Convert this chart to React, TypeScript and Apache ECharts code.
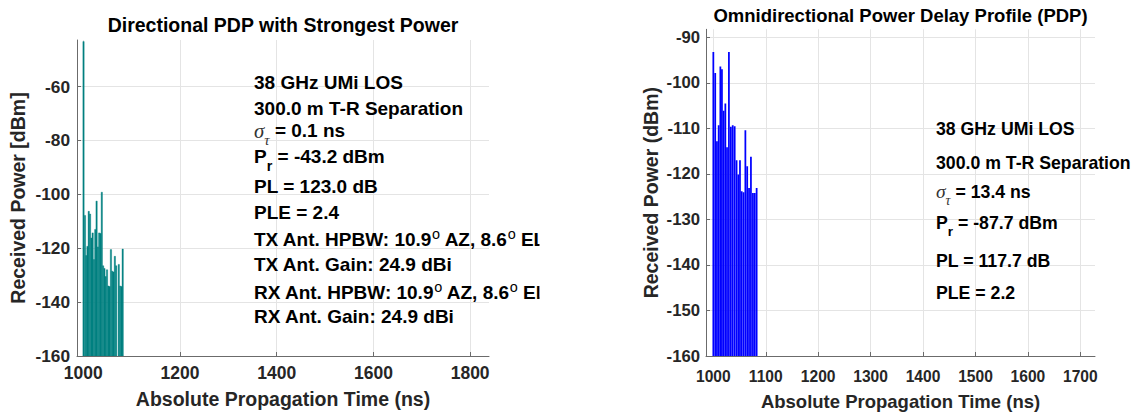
import React, { useEffect, useRef } from "react";
import * as echarts from "echarts";

// ---------- data ----------
const leftTimes = [1000.5, 1003.5, 1006, 1008.6, 1011.3, 1014, 1016.7, 1019.4, 1022.1, 1024.8, 1027.5, 1030.2, 1032.9, 1035.6, 1038.3, 1041, 1043.7, 1046.4, 1049.1, 1051.8, 1054.5, 1057.2, 1059.9, 1062.6, 1065.3, 1068, 1073.4, 1076.1, 1078.8, 1081.5];
const leftPower = [-43.3, -107.8, -122.7, -119.3, -106.3, -107.3, -116.2, -114.3, -124.2, -113, -102.5, -119.5, -114.3, -114.5, -99.2, -126.5, -127.5, -130.5, -128, -134, -134.2, -120.5, -128.5, -128.8, -123, -126.5, -126, -134, -134.2, -120.3];

const rightTimes = [1000, 1003.6, 1006.9, 1010.2, 1013.4, 1016.4, 1019.6, 1022.9, 1026.1, 1029.7, 1033.4, 1037, 1040.7, 1044.3, 1047.6, 1050.8, 1054.1, 1057.6, 1061.1, 1064.6, 1068.1, 1071.7, 1075.5, 1079, 1082.6];
const rightPower = [-93.2, -97.8, -112.8, -109.3, -96.4, -97.0, -106.1, -104.5, -114.1, -93.2, -109.6, -109.3, -109.5, -117, -120.1, -117, -123.8, -124, -110.4, -118.3, -123.1, -116.2, -124.2, -124.2, -123.1];

const leftXTicks = [1000, 1200, 1400, 1600, 1800];
const leftYTicks = [-160, -140, -120, -100, -80, -60];
const rightXTicks = [1000, 1100, 1200, 1300, 1400, 1500, 1600, 1700];
const rightYTicks = [-160, -150, -140, -130, -120, -110, -100, -90];

const leftTitle = "Directional PDP with Strongest Power";
const rightTitle = "Omnidirectional Power Delay Profile (PDP)";
const xName = "Absolute Propagation Time (ns)";
const leftYName = "Received Power [dBm]";
const rightYName = "Received Power (dBm)";

// annotation lines as [kind, text] segments: m = main, g = greek, gs = greek subscript, s = subscript, u = superscript
type Seg = [string, string];
const leftNotes: Seg[][] = [
  [["m", "38 GHz UMi LOS"]],
  [["m", "300.0 m T-R Separation"]],
  [["g", "σ"], ["gs", "τ"], ["m", " = 0.1 ns"]],
  [["m", "P"], ["s", "r"], ["m", " = -43.2 dBm"]],
  [["m", "PL = 123.0 dB"]],
  [["m", "PLE = 2.4"]],
  [["m", "TX Ant. HPBW: 10.9"], ["u", "o"], ["m", " AZ, 8.6"], ["u", "o"], ["m", " EL"]],
  [["m", "TX Ant. Gain: 24.9 dBi"]],
  [["m", "RX Ant. HPBW: 10.9"], ["u", "o"], ["m", " AZ, 8.6"], ["u", "o"], ["m", " EL"]],
  [["m", "RX Ant. Gain: 24.9 dBi"]],
];
const rightNotes: Seg[][] = [
  [["m", "38 GHz UMi LOS"]],
  [["m", "300.0 m T-R Separation"]],
  [["g", "σ"], ["gs", "τ"], ["m", " = 13.4 ns"]],
  [["m", "P"], ["s", "r"], ["m", " = -87.7 dBm"]],
  [["m", "PL = 117.7 dB"]],
  [["m", "PLE = 2.2"]],
];

// ---------- layout / style ----------
const FONT = '"Liberation Sans", Arial, Helvetica, sans-serif';
const SERIF = '"Liberation Serif", "DejaVu Serif", serif';
const LABEL = "#262626";
const AXIS = "#6b6b6b";
const GRID = "#e4e4e4";
const leftNoteY = [82.7, 108.3, 130.7, 156.7, 186.7, 212.7, 239.5, 264, 292.5, 316];
const rightNoteY = [129.3, 163.3, 191.7, 223.3, 261, 293.3];

function segFont(kind: string, fs: number) {
  if (kind === "g") return { font: `italic ${(fs * 1.1).toFixed(1)}px ${SERIF}`, dy: 0, fill: "#333" };
  if (kind === "gs") return { font: `italic ${(fs * 0.78).toFixed(1)}px ${SERIF}`, dy: fs * 0.5, fill: "#333" };
  if (kind === "s") return { font: `bold ${(fs * 0.76).toFixed(1)}px ${FONT}`, dy: fs * 0.47, fill: "#000" };
  if (kind === "u") return { font: `${(fs * 0.76).toFixed(1)}px ${FONT}`, dy: -fs * 0.3, fill: "#000" };
  return { font: `bold ${fs}px ${FONT}`, dy: 0, fill: "#000" };
}

let measureCtx: CanvasRenderingContext2D | null = null;
function measure(text: string, font: string) {
  if (!measureCtx) measureCtx = document.createElement("canvas").getContext("2d");
  if (!measureCtx) return text.length * 10;
  measureCtx.font = font;
  return measureCtx.measureText(text).width;
}

function noteGraphics(lines: Seg[][], ys: number[], x0: number, fs: number) {
  const out: any[] = [];
  lines.forEach((segs, i) => {
    let x = x0;
    segs.forEach(([kind, text]) => {
      const f = segFont(kind, fs);
      out.push({
        type: "text", x, y: ys[i] + f.dy, z: 10,
        style: { text, font: f.font, fill: f.fill, align: "left", verticalAlign: "middle" },
      });
      x += measure(text, f.font);
    });
  });
  return out;
}

function barRenderer(width: number, color: string, stroke: boolean) {
  return (params: any, api: any) => {
    const t = api.value(0);
    const v = api.value(1);
    const p0 = api.coord([t - width / 2, v]);
    const p1 = api.coord([t + width / 2, -160]);
    return {
      type: "rect",
      shape: { x: p0[0], y: p0[1], width: p1[0] - p0[0], height: p1[1] - p0[1] },
      style: stroke ? { fill: color, stroke: color, lineWidth: 0.4 } : { fill: color },
    };
  };
}

const plain = (v: number) => String(v);

function xAxis(grid: number, min: number, max: number, ticks: number[], fs: number, nfs: number, gap: number, margin: number) {
  return {
    type: "value",
    gridIndex: grid,
    min,
    max,
    name: xName,
    nameLocation: "middle",
    nameGap: gap,
    nameTextStyle: { fontFamily: FONT, fontWeight: "bold", fontSize: nfs, color: LABEL },
    axisLine: { show: true, onZero: false, lineStyle: { color: AXIS, width: 1 } },
    axisTick: { show: true, inside: true, length: 4, customValues: ticks, lineStyle: { color: AXIS } },
    axisLabel: { customValues: ticks, formatter: plain, margin, fontFamily: FONT, fontWeight: "bold", fontSize: fs, color: LABEL },
    splitLine: { show: true, lineStyle: { color: GRID, width: 1 } },
  };
}

function yAxis(grid: number, min: number, max: number, ticks: number[], name: string, fs: number, nfs: number, gap: number, margin: number) {
  return {
    type: "value",
    gridIndex: grid,
    min,
    max,
    name,
    nameLocation: "middle",
    nameGap: gap,
    nameTextStyle: { fontFamily: FONT, fontWeight: "bold", fontSize: nfs, color: LABEL },
    axisLine: { show: true, onZero: false, lineStyle: { color: AXIS, width: 1 } },
    axisTick: { show: true, inside: true, length: 4, customValues: ticks, lineStyle: { color: AXIS } },
    axisLabel: { customValues: ticks, formatter: plain, margin, fontFamily: FONT, fontWeight: "bold", fontSize: fs, color: LABEL },
    splitLine: { show: true, lineStyle: { color: GRID, width: 1 } },
  };
}

export default function App() {
  const ref = useRef<HTMLDivElement>(null);
  useEffect(() => {
    if (!ref.current) return;
    const chart = echarts.init(ref.current, null, { renderer: "svg" });
    const graphics: any[] = [
      {
        type: "text", x: 283, y: 25, z: 10,
        style: { text: leftTitle, font: `bold 19.5px ${FONT}`, fill: "#000", align: "center", verticalAlign: "middle" },
      },
      {
        type: "text", x: 900.5, y: 15, z: 10,
        style: { text: rightTitle, font: `bold 18.5px ${FONT}`, fill: "#000", align: "center", verticalAlign: "middle" },
      },
      ...noteGraphics(leftNotes, leftNoteY, 254, 19),
      ...noteGraphics(rightNotes, rightNoteY, 936, 17.7),
      // the figure is cropped here, cutting the over-long antenna lines
      { type: "rect", z: 20, shape: { x: 539.5, y: 222, width: 100, height: 84 }, style: { fill: "#fff" } },
    ];

    chart.setOption({
      animation: false,
      backgroundColor: "#fff",
      grid: [
        { left: 77, right: 649, top: 40, bottom: 60 },
        { left: 706, right: 43, top: 29.3, bottom: 58.3 },
      ],
      xAxis: [
        xAxis(0, 987, 1839, leftXTicks, 17.5, 19.5, 33, 8),
        xAxis(1, 986, 1728, rightXTicks, 15.6, 18.5, 36, 12),
      ],
      yAxis: [
        yAxis(0, -160, -42.7, leftYTicks, leftYName, 17.3, 19.5, 49, 7),
        yAxis(1, -160, -88.2, rightYTicks, rightYName, 16.7, 19.5, 45, 6),
      ],
      series: [
        {
          type: "custom", xAxisIndex: 0, yAxisIndex: 0, clip: true,
          renderItem: barRenderer(2.7, "#008080", true),
          data: leftTimes.map((t, i) => [t, leftPower[i]]),
        },
        {
          type: "custom", xAxisIndex: 1, yAxisIndex: 1, clip: true,
          renderItem: barRenderer(3.35, "#0000ff", false),
          data: rightTimes.map((t, i) => [t, rightPower[i]]),
        },
      ],
      graphic: graphics,
    });
    return () => chart.dispose();
  }, []);
  return (
    <div
      ref={ref}
      style={{ position: "fixed", left: 0, top: 0, width: 1138, height: 416, background: "#fff" }}
    />
  );
}
